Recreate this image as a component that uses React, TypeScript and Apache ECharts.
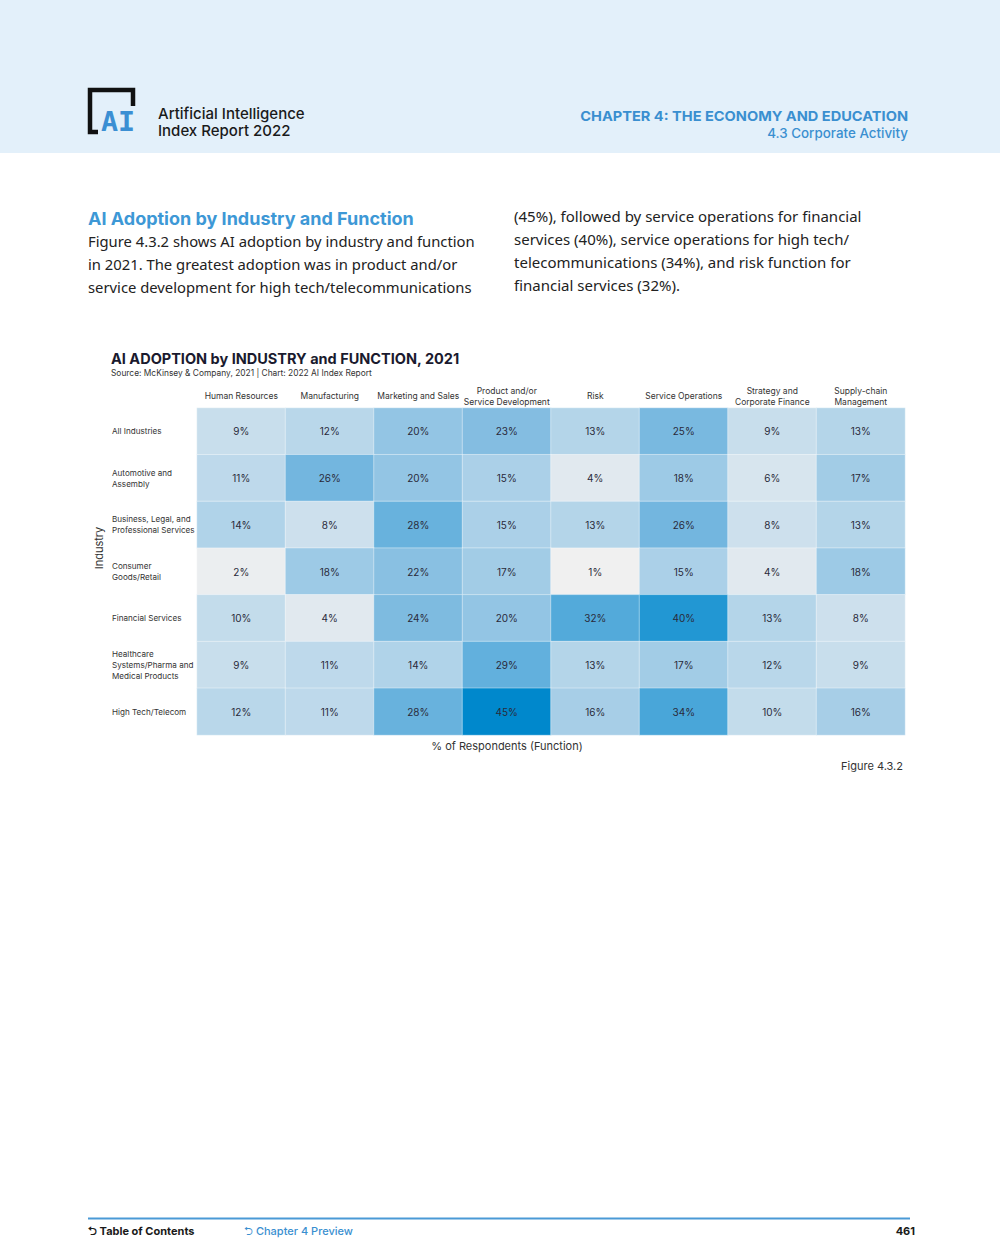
import React, { useEffect, useRef } from "react";
import * as echarts from "echarts";

const functions = [
  "Human Resources",
  "Manufacturing",
  "Marketing and Sales",
  "Product and/or\nService Development",
  "Risk",
  "Service Operations",
  "Strategy and\nCorporate Finance",
  "Supply-chain\nManagement",
];

const industries = [
  "All Industries",
  "Automotive and\nAssembly",
  "Business, Legal, and\nProfessional Services",
  "Consumer\nGoods/Retail",
  "Financial Services",
  "Healthcare\nSystems/Pharma and\nMedical Products",
  "High Tech/Telecom",
];

const allIndustries = [9, 12, 20, 23, 13, 25, 9, 13];
const automotive = [11, 26, 20, 15, 4, 18, 6, 17];
const business = [14, 8, 28, 15, 13, 26, 8, 13];
const consumer = [2, 18, 22, 17, 1, 15, 4, 18];
const financial = [10, 4, 24, 20, 32, 40, 13, 8];
const healthcare = [9, 11, 14, 29, 13, 17, 12, 9];
const highTech = [12, 11, 28, 45, 16, 34, 10, 16];

const rows = [allIndustries, automotive, business, consumer, financial, healthcare, highTech];

const colorStops = [
  "#f0f0f0",
  "#d5e4ee",
  "#b9d7ea",
  "#a0cbe6",
  "#84bde1",
  "#65b1dd",
  "#49a6d9",
  "#2599d4",
  "#0088cc",
];

const bodyLeft = [
  "Figure 4.3.2 shows AI adoption by industry and function",
  "in 2021. The greatest adoption was in product and/or",
  "service development for high tech/telecommunications",
];
const bodyRight = [
  "(45%), followed by service operations for financial",
  "services (40%), service operations for high tech/",
  "telecommunications (34%), and risk function for",
  "financial services (32%).",
];

const CHART_FONT = "Inter, 'Noto Sans', sans-serif";
const BODY_FONT = "'Noto Sans', 'Open Sans', sans-serif";

export default function App() {
  const ref = useRef<HTMLDivElement>(null);

  useEffect(() => {
    if (!ref.current) return;
    const chart = echarts.init(ref.current, null, { renderer: "svg" });

    const data: number[][] = [];
    rows.forEach((r, yi) => r.forEach((v, xi) => data.push([xi, yi, v])));

    const txt = (text: string, x: number, y: number, opts: any = {}) => ({
      type: "text",
      x,
      y,
      scaleX: opts.scaleX || 1,
      silent: true,
      style: {
        text,
        fill: opts.fill || "#222222",
        fontSize: opts.fontSize || 12,
        fontWeight: opts.fontWeight || "normal",
        fontFamily: opts.fontFamily || CHART_FONT,
        textAlign: opts.align || "left",
        textVerticalAlign: "middle",
      },
    });

    const graphics: any[] = [
      {
        type: "rect",
        shape: { x: 0, y: 0, width: 1000, height: 153 },
        style: { fill: "#e3f0fa" },
        silent: true,
      },
      {
        type: "polyline",
        shape: {
          points: [
            [98, 132],
            [90, 132],
            [90, 90],
            [133, 90],
            [133, 106],
          ],
        },
        style: { stroke: "#111111", lineWidth: 4.5, fill: null },
        silent: true,
      },
      txt("AI", 101, 122, {
        fontSize: 27,
        fontWeight: "bold",
        fontFamily: "'DejaVu Sans Mono', monospace",
        fill: "#3b8fd3",
        scaleX: 1.05,
      }),
      txt("Artificial Intelligence", 158, 113, { fontSize: 15, fontWeight: 500, fill: "#1a1a1a" }),
      txt("Index Report 2022", 158, 130, { fontSize: 15, fontWeight: 500, fill: "#1a1a1a" }),
      txt("CHAPTER 4: THE ECONOMY AND EDUCATION", 908, 116, {
        fontSize: 13.5,
        fontWeight: "bold",
        fill: "#3a8fd0",
        align: "right",
        scaleX: 1.08,
      }),
      txt("4.3 Corporate Activity", 908, 133, {
        fontSize: 13,
        fontWeight: 500,
        fill: "#3a8fd0",
        align: "right",
        scaleX: 1.03,
      }),
      txt("AI Adoption by Industry and Function", 88, 218, {
        fontSize: 18,
        fontWeight: "bold",
        fill: "#3d98d6",
      }),
      ...bodyLeft.map((l, i) =>
        txt(l, 88, 241 + i * 23, { fontSize: 14.8, fontFamily: BODY_FONT, fill: "#222222" })
      ),
      ...bodyRight.map((l, i) =>
        txt(l, 514, 216 + i * 23, { fontSize: 15, fontFamily: BODY_FONT, fill: "#222222" })
      ),
      txt("AI ADOPTION by INDUSTRY and FUNCTION, 2021", 111, 358, {
        fontSize: 14.5,
        fontWeight: "bold",
        fill: "#1a1a2e",
      }),
      txt("Source: McKinsey & Company, 2021 | Chart: 2022 AI Index Report", 111, 373, {
        fontSize: 8.4,
        fill: "#333333",
      }),
      {
        type: "text",
        x: 99,
        y: 548,
        rotation: Math.PI / 2,
        silent: true,
        style: {
          text: "Industry",
          fill: "#333333",
          fontSize: 11,
          fontFamily: CHART_FONT,
          textAlign: "center",
          textVerticalAlign: "middle",
        },
      },
      txt("% of Respondents (Function)", 507, 746, { fontSize: 11, fill: "#333333", align: "center" }),
      txt("Figure 4.3.2", 903, 766, { fontSize: 11, fill: "#333333", align: "right" }),
      {
        type: "line",
        shape: { x1: 88, y1: 1218.5, x2: 910, y2: 1218.5 },
        style: { stroke: "#4a9ad6", lineWidth: 2 },
        silent: true,
      },
      txt("⮌ Table of Contents", 88, 1231, { fontSize: 11, fontWeight: "bold", fill: "#1a1a1a" }),
      txt("⮌ Chapter 4 Preview", 244, 1231, { fontSize: 11, fontWeight: 500, fill: "#3a8fd0" }),
      txt("461", 915, 1231, { fontSize: 11, fontWeight: "bold", fill: "#1a1a1a", align: "right" }),
    ];

    chart.setOption({
      animation: false,
      backgroundColor: "#ffffff",
      textStyle: { fontFamily: CHART_FONT },
      grid: { left: 197, right: 95, top: 408, height: 327, containLabel: false },
      xAxis: {
        type: "category",
        position: "top",
        data: functions,
        axisLine: { show: false },
        axisTick: { show: false },
        splitLine: { show: false },
        axisLabel: {
          interval: 0,
          fontSize: 8.5,
          lineHeight: 11,
          color: "#333333",
          margin: 12,
          verticalAlign: "middle",
          fontFamily: CHART_FONT,
        },
      },
      yAxis: {
        type: "category",
        inverse: true,
        data: industries,
        axisLine: { show: false },
        axisTick: { show: false },
        splitLine: { show: false },
        axisLabel: {
          interval: 0,
          fontSize: 8.1,
          lineHeight: 11,
          color: "#333333",
          align: "left",
          margin: 85,
          fontFamily: CHART_FONT,
        },
      },
      visualMap: {
        show: false,
        min: 1,
        max: 45,
        dimension: 2,
        inRange: { color: colorStops },
      },
      series: [
        {
          type: "heatmap",
          data,
          label: {
            show: true,
            formatter: (p: any) => `${p.value[2]}%`,
            fontSize: 10,
            color: "#2a2a3a",
            fontFamily: CHART_FONT,
          },
          itemStyle: { borderColor: "rgba(255,255,255,0.5)", borderWidth: 0.8 },
          emphasis: { disabled: true },
        },
      ],
      graphic: graphics,
    });

    return () => chart.dispose();
  }, []);

  return (
    <div
      ref={ref}
      style={{ position: "absolute", left: 0, top: 0, width: 1000, height: 1239 }}
    />
  );
}
